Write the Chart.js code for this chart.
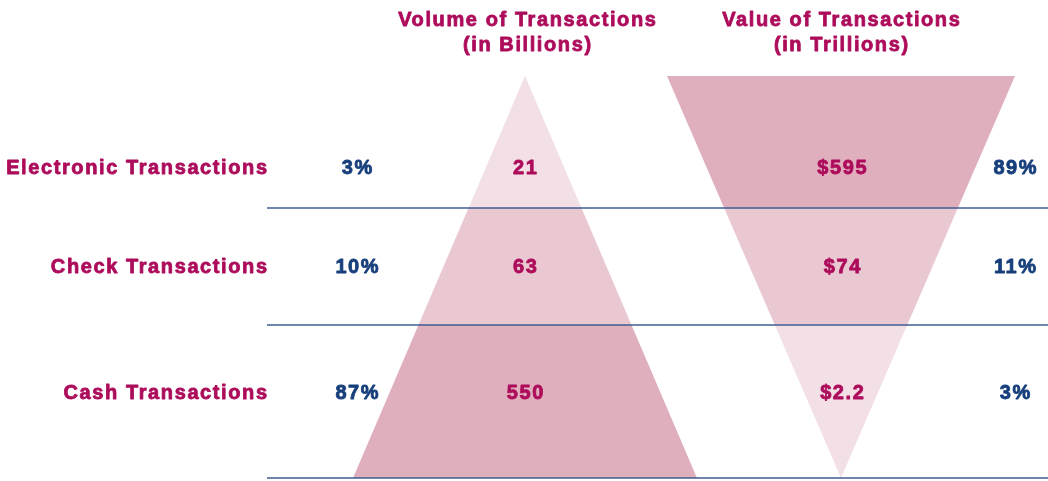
<!DOCTYPE html>
<html>
<head>
<meta charset="utf-8">
<script src="https://cdn.jsdelivr.net/npm/chart.js@4.4.1/dist/chart.umd.min.js"></script>
<style>
  html, body { margin: 0; padding: 0; background: #ffffff; }
  #wrap { width: 1048px; height: 481px; position: relative; }
</style>
</head>
<body>
<div id="wrap"><canvas id="c"></canvas></div>
<script>
// ---- data ----
const categories = ['Electronic Transactions', 'Check Transactions', 'Cash Transactions'];
const volumeLabels = ['21', '63', '550'];            // in billions
const volumeShare = ['3%', '10%', '87%'];
const valueLabels = ['$595', '$74', '$2.2'];          // in trillions
const valueShare = ['89%', '11%', '3%'];
const titles = [['Volume of Transactions', '(in Billions)'], ['Value of Transactions', '(in Trillions)']];

// ---- layout (axis units) ----
const rowEdges = [76, 208, 325, 478];       // top of shapes, divider lines, base
const rowTextY = [168, 267, 393];
const lineStartX = 267;
const lineEndX = 1048;
const volumeCenterX = 525, volumeHalfBase = 172;
const valueCenterX = 841, valueHalfTop = 174;
const volumeFills = ['#f3e0e6', '#eac8d2', '#e0afbd'];
const valueFills = ['#e0afbd', '#eac8d2', '#f3e0e6'];
const magenta = '#ad0c5b';
const blue = '#173f7c';
const lineColor = '#3f5d8c';

const shapeTop = rowEdges[0], shapeBase = rowEdges[3];
function volHalf(y) { return volumeHalfBase * (y - shapeTop) / (shapeBase - shapeTop); }
function valHalf(y) { return valueHalfTop * (shapeBase - y) / (shapeBase - shapeTop); }
function trap(cx, halfFn, y1, y2) {
  return [
    {x: cx - halfFn(y1), y: y1}, {x: cx + halfFn(y1), y: y1},
    {x: cx + halfFn(y2), y: y2}, {x: cx - halfFn(y2), y: y2},
    {x: cx - halfFn(y1), y: y1}
  ];
}

const datasets = [];
// divider lines
for (let i = 1; i < rowEdges.length; i++) {
  datasets.push({
    type: 'line', data: [{x: lineStartX, y: rowEdges[i]}, {x: lineEndX, y: rowEdges[i]}],
    borderColor: lineColor, borderWidth: 1.6, pointRadius: 0, fill: false, order: 0
  });
}
for (let i = 0; i < 3; i++) {
  datasets.push({
    type: 'line', data: trap(volumeCenterX, volHalf, rowEdges[i], rowEdges[i + 1]),
    backgroundColor: volumeFills[i], borderWidth: 0, borderColor: 'rgba(0,0,0,0)',
    pointRadius: 0, fill: 'shape', tension: 0, order: 5
  });
  datasets.push({
    type: 'line', data: trap(valueCenterX, valHalf, rowEdges[i], rowEdges[i + 1]),
    backgroundColor: valueFills[i], borderWidth: 0, borderColor: 'rgba(0,0,0,0)',
    pointRadius: 0, fill: 'shape', tension: 0, order: 5
  });
}

const textPlugin = {
  id: 'texts',
  afterDatasetsDraw(chart) {
    const {ctx, scales: {x, y}} = chart;
    ctx.save();
    ctx.font = 'bold 20px "Liberation Sans", Arial, sans-serif';
    ctx.letterSpacing = '1.6px';
    ctx.textBaseline = 'middle';
    ctx.lineWidth = 0.8;
    ctx.lineJoin = 'round';
    const put = (t, px, py, color, align) => {
      ctx.fillStyle = color; ctx.strokeStyle = color; ctx.textAlign = align;
      const off = align === 'right' ? 1.6 : (align === 'center' ? 0.8 : 0);
      const X = x.getPixelForValue(px) + off, Y = y.getPixelForValue(py);
      ctx.fillText(t, X, Y);
      ctx.strokeText(t, X, Y);
    };
    // titles
    put(titles[0][0], volumeCenterX + 2, 20, magenta, 'center');
    put(titles[0][1], volumeCenterX + 2, 45, magenta, 'center');
    put(titles[1][0], valueCenterX, 20, magenta, 'center');
    put(titles[1][1], valueCenterX, 45, magenta, 'center');
    for (let i = 0; i < categories.length; i++) {
      put(categories[i], 267, rowTextY[i], magenta, 'right');
      put(volumeShare[i], 357, rowTextY[i], blue, 'center');
      put(volumeLabels[i], volumeCenterX, rowTextY[i], magenta, 'center');
      put(valueLabels[i], valueCenterX + 1, rowTextY[i], magenta, 'center');
      put(valueShare[i], 1015, rowTextY[i], blue, 'center');
    }
    ctx.restore();
  }
};

new Chart(document.getElementById('c'), {
  type: 'scatter',
  data: { datasets },
  options: {
    responsive: true, maintainAspectRatio: false, animation: false,
    layout: { padding: 0 },
    plugins: { legend: { display: false }, tooltip: { enabled: false }, title: { display: false } },
    elements: { line: { tension: 0 } },
    scales: {
      x: { type: 'linear', min: 0, max: 1048, display: false },
      y: { type: 'linear', min: 0, max: 481, reverse: true, display: false }
    }
  },
  plugins: [textPlugin]
});
</script>
</body>
</html>
